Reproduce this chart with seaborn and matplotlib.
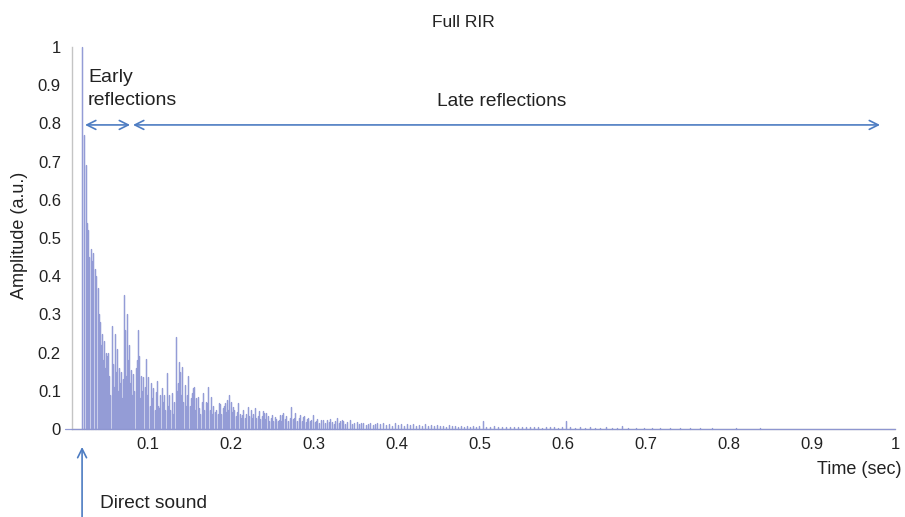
#%% MODULE BEGINS
module_name = 'full_rir_plot'
'''
Description:
Room impulse response (RIR) with direct sound, early and late reflections.
Spike times / amplitudes are read off the reference picture.
'''

#%% IMPORTS ~~~~~~~~~~~~~~~~~~~~~~~~~~~~~~~~~~~~~~~~~~~~
import numpy as np
import pandas as pd
import matplotlib
matplotlib.use('Agg')
import matplotlib.pyplot as plt
import seaborn as sns

#%% DATA ~~~~~~~~~~~~~~~~~~~~~~~~~~~~~~~~~~~~~~~~~~~~
# direct sound
direct_t = [0.0205]
direct_a = [1.00]

# early reflections (~0.02 - 0.08 s)
early_t = [0.0233, 0.0247, 0.0263, 0.0277, 0.0293, 0.0310, 0.0325, 0.0341,
           0.0361, 0.0377, 0.0392, 0.0404, 0.0416, 0.0428, 0.0440, 0.0452,
           0.0464, 0.0476, 0.0490, 0.0502, 0.0512, 0.0522, 0.0533, 0.0546,
           0.0563, 0.0575, 0.0587, 0.0602, 0.0614, 0.0627, 0.0639, 0.0651,
           0.0663, 0.0672, 0.0684, 0.0693, 0.0705, 0.0717, 0.0729, 0.0741,
           0.0751, 0.0763, 0.0771, 0.0783, 0.0793]
early_a = [0.77, 0.69, 0.54, 0.52, 0.45, 0.47, 0.44, 0.46,
           0.42, 0.40, 0.37, 0.30, 0.28, 0.22, 0.25, 0.18,
           0.23, 0.16, 0.20, 0.19, 0.20, 0.12, 0.14, 0.09,
           0.27, 0.17, 0.11, 0.25, 0.15, 0.21, 0.10, 0.16,
           0.12, 0.15, 0.08, 0.13, 0.35, 0.26, 0.14, 0.245,
           0.30, 0.18, 0.22, 0.12, 0.155]

# late reflections, decaying part (~0.08 - 0.38 s)
late_t = [0.0805, 0.0813, 0.0823, 0.0835, 0.0852, 0.0861, 0.0871, 0.0883,
          0.0894, 0.0907, 0.0919, 0.0931, 0.0943, 0.0958, 0.0967, 0.0980,
          0.0992, 0.1004, 0.1018, 0.1033, 0.1048, 0.1064, 0.1081, 0.1100,
          0.1108, 0.1120, 0.1133, 0.1148, 0.1165, 0.1177, 0.1187, 0.1201,
          0.1225, 0.1239, 0.1253, 0.1269, 0.1286, 0.1301, 0.1317, 0.1334,
          0.1347, 0.1359, 0.1373, 0.1386, 0.1398, 0.1413, 0.1425, 0.1440,
          0.1452, 0.1464, 0.1484, 0.1500, 0.1512, 0.1524, 0.1536, 0.1548,
          0.1563, 0.1582, 0.1596, 0.1614, 0.1630, 0.1647, 0.1663, 0.1678,
          0.1695, 0.1707, 0.1726, 0.1741, 0.1757, 0.1771, 0.1783, 0.1801,
          0.1819, 0.1837, 0.1849, 0.1861, 0.1879, 0.1898, 0.1910, 0.1922,
          0.1940, 0.1952, 0.1964, 0.1979, 0.1996, 0.2012, 0.2028, 0.2040,
          0.2054, 0.2069, 0.2084, 0.2102, 0.2120, 0.2132, 0.2148, 0.2163,
          0.2181, 0.2199, 0.2217, 0.2237, 0.2253, 0.2269, 0.2287, 0.2305,
          0.2319, 0.2335, 0.2353, 0.2367, 0.2379, 0.2392, 0.2410, 0.2425,
          0.2440, 0.2458, 0.2478, 0.2490, 0.2506, 0.2526, 0.2542, 0.2560,
          0.2578, 0.2590, 0.2606, 0.2618, 0.2630, 0.2651, 0.2666, 0.2687,
          0.2705, 0.2723, 0.2741, 0.2759, 0.2771, 0.2789, 0.2816, 0.2831,
          0.2849, 0.2867, 0.2879, 0.2898, 0.2910, 0.2928, 0.2946, 0.2964,
          0.2988, 0.3006, 0.3024, 0.3040, 0.3060, 0.3088, 0.3112, 0.3132,
          0.3151, 0.3175, 0.3193, 0.3211, 0.3235, 0.3253, 0.3271, 0.3295,
          0.3313, 0.3331, 0.3353, 0.3373, 0.3398, 0.3434, 0.3458, 0.3482,
          0.3514, 0.3542, 0.3566, 0.3594, 0.3627, 0.3651, 0.3675, 0.3711,
          0.3735, 0.3755]
late_a = [0.09, 0.07, 0.145, 0.10, 0.16, 0.12, 0.18, 0.26,
          0.19, 0.08, 0.14, 0.10, 0.137, 0.07, 0.11, 0.183,
          0.09, 0.137, 0.06, 0.12, 0.08, 0.107, 0.05, 0.098,
          0.125, 0.06, 0.055, 0.09, 0.107, 0.07, 0.089, 0.05,
          0.146, 0.06, 0.089, 0.05, 0.094, 0.04, 0.07, 0.24,
          0.10, 0.12, 0.176, 0.15, 0.09, 0.163, 0.07, 0.115,
          0.06, 0.09, 0.14, 0.06, 0.08, 0.094, 0.107, 0.11,
          0.05, 0.08, 0.085, 0.055, 0.04, 0.07, 0.094, 0.05,
          0.071, 0.068, 0.11, 0.05, 0.083, 0.04, 0.06, 0.045,
          0.05, 0.04, 0.067, 0.065, 0.04, 0.055, 0.06, 0.068,
          0.045, 0.076, 0.05, 0.089, 0.07, 0.045, 0.058, 0.05,
          0.035, 0.045, 0.068, 0.04, 0.03, 0.037, 0.05, 0.03,
          0.04, 0.058, 0.035, 0.05, 0.03, 0.04, 0.056, 0.03,
          0.035, 0.047, 0.025, 0.035, 0.047, 0.043, 0.025, 0.041,
          0.034, 0.022, 0.028, 0.037, 0.02, 0.032, 0.025, 0.02,
          0.024, 0.037, 0.02, 0.037, 0.041, 0.025, 0.034, 0.02,
          0.03, 0.057, 0.025, 0.03, 0.041, 0.022, 0.028, 0.037,
          0.02, 0.032, 0.034, 0.018, 0.025, 0.028, 0.02, 0.024,
          0.037, 0.018, 0.022, 0.026, 0.015, 0.024, 0.024, 0.015,
          0.024, 0.018, 0.025, 0.019, 0.014, 0.02, 0.028, 0.015,
          0.02, 0.024, 0.022, 0.012, 0.018, 0.024, 0.012, 0.016,
          0.019, 0.012, 0.015, 0.017, 0.01, 0.014, 0.017, 0.01,
          0.013, 0.015]

# diffuse tail (~0.38 - 1 s)
tail_t = [0.3795, 0.3831, 0.3867, 0.3904, 0.3940, 0.3976, 0.4012, 0.4048,
          0.4084, 0.4120, 0.4157, 0.4193, 0.4229, 0.4265, 0.4301, 0.4337,
          0.4373, 0.4410, 0.4446, 0.4482, 0.4518, 0.4554, 0.4590, 0.4627,
          0.4663, 0.4699, 0.4735, 0.4771, 0.4807, 0.4843, 0.4880, 0.4916,
          0.4952, 0.4988, 0.5036, 0.5072, 0.5120, 0.5169, 0.5217, 0.5265,
          0.5313, 0.5361, 0.5410, 0.5458, 0.5506, 0.5554, 0.5602, 0.5651,
          0.5699, 0.5747, 0.5795, 0.5843, 0.5892, 0.5940, 0.5988, 0.6036,
          0.6084, 0.6145, 0.6205, 0.6265, 0.6325, 0.6386, 0.6446, 0.6518,
          0.6590, 0.6651, 0.6711, 0.6783, 0.6879, 0.6976, 0.7072, 0.7169,
          0.7289, 0.7410, 0.7530, 0.7651, 0.7795, 0.7940, 0.8084, 0.8229,
          0.8373, 0.8518, 0.8663, 0.8807, 0.8952, 0.9096, 0.9241, 0.9385,
          0.9530, 0.9675, 0.9819, 0.9964]
tail_a = [0.012, 0.016, 0.010, 0.014, 0.009, 0.015, 0.011, 0.013,
          0.008, 0.014, 0.010, 0.012, 0.008, 0.011, 0.009, 0.012,
          0.007, 0.010, 0.008, 0.011, 0.007, 0.009, 0.006, 0.010,
          0.007, 0.008, 0.006, 0.009, 0.005, 0.008, 0.006, 0.007,
          0.005, 0.007, 0.022, 0.006, 0.005, 0.007, 0.004, 0.006,
          0.005, 0.006, 0.004, 0.005, 0.006, 0.004, 0.005, 0.004,
          0.005, 0.003, 0.005, 0.004, 0.005, 0.003, 0.004, 0.022,
          0.004, 0.003, 0.004, 0.003, 0.004, 0.003, 0.003, 0.004,
          0.003, 0.002, 0.008, 0.002, 0.003, 0.002, 0.002, 0.003,
          0.002, 0.002, 0.002, 0.002, 0.002, 0.001, 0.002, 0.001,
          0.002, 0.001, 0.001, 0.001, 0.001, 0.001, 0.001, 0.001,
          0.001, 0.001, 0.001, 0.001]

x_ticks = [0.1, 0.2, 0.3, 0.4, 0.5, 0.6, 0.7, 0.8, 0.9, 1.0]
x_tick_labels = ['0.1', '0.2', '0.3', '0.4', '0.5', '0.6', '0.7', '0.8', '0.9', '1']
y_ticks = [0, 0.1, 0.2, 0.3, 0.4, 0.5, 0.6, 0.7, 0.8, 0.9, 1.0]
y_tick_labels = ['0', '0.1', '0.2', '0.3', '0.4', '0.5', '0.6', '0.7', '0.8', '0.9', '1']

#%% DECLARATIONS ~~~~~~~~~~~~~~~~~~~~~~~~~~~~~~~~~~~~~~~~~~~~
SIG_COLOR = '#8891d2'
ARROW_COLOR = '#4d7cc2'
AXIS_COLOR = '#c4c4c4'
TEXT_COLOR = '#222222'


def build_frame():
    '''
    Turn spike lists into a stem-like polyline (0 -> a -> 0 for each spike).
    '''
    t = np.array(direct_t + early_t + late_t + tail_t)
    a = np.array(direct_a + early_a + late_a + tail_a)
    order = np.argsort(t)
    t, a = t[order], a[order]
    xs = np.repeat(t, 3)
    ys = np.column_stack([np.zeros_like(a), a, np.zeros_like(a)]).ravel()
    xs = np.concatenate([[0.0], xs, [1.0]])
    ys = np.concatenate([[0.0], ys, [0.0]])
    return pd.DataFrame({'Time (sec)': xs, 'Amplitude': ys})


def main():
    sns.set_style('white')
    plt.rcParams['font.family'] = ['Liberation Sans', 'DejaVu Sans']

    fig = plt.figure(figsize=(9.05, 5.17), dpi=100)
    ax = fig.add_axes([0.0796, 0.1702, 0.9094, 0.7389])

    df = build_frame()
    sns.lineplot(data=df, x='Time (sec)', y='Amplitude', ax=ax, sort=False,
                 estimator=None, color=SIG_COLOR, linewidth=0.9, alpha=0.9,
                 zorder=3, clip_on=False)

    ax.set_xlim(0.0084, 1.0)
    ax.set_ylim(0, 1.0)
    ax.set_xticks(x_ticks)
    ax.set_xticklabels(x_tick_labels)
    ax.set_yticks(y_ticks)
    ax.set_yticklabels(y_tick_labels)
    ax.set_xlabel('')
    ax.set_ylabel('')

    for side in ['top', 'right']:
        ax.spines[side].set_visible(False)
    for side in ['left', 'bottom']:
        ax.spines[side].set_color(AXIS_COLOR)
        ax.spines[side].set_linewidth(1.0)
    ax.tick_params(axis='both', direction='in', length=6, width=0.9,
                   color=AXIS_COLOR, labelsize=12, labelcolor=TEXT_COLOR)
    ax.tick_params(axis='y', pad=8)
    ax.tick_params(axis='x', pad=6)

    # labels
    fig.text(0.512, 0.957, 'Full RIR', ha='center', va='center',
             fontsize=12.5, color=TEXT_COLOR)
    fig.text(0.022, 0.545, 'Amplitude (a.u.)', ha='center', va='center',
             rotation=90, fontsize=13, color=TEXT_COLOR)
    fig.text(0.949, 0.091, 'Time (sec)', ha='center', va='center',
             fontsize=13, color=TEXT_COLOR)

    # annotations
    fig.text(88 / 905, 1 - 82 / 517, 'Early', ha='left', va='baseline',
             fontsize=14, color=TEXT_COLOR)
    fig.text(88 / 905, 1 - 105 / 517, 'reflections', ha='left', va='baseline',
             fontsize=14, color=TEXT_COLOR)
    fig.text(502 / 905, 1 - 102 / 517, 'Late reflections', ha='center',
             va='center', fontsize=13.8, color=TEXT_COLOR)
    fig.text(100 / 905, 1 - 504 / 517, 'Direct sound', ha='left',
             va='center', fontsize=13.8, color=TEXT_COLOR)

    arrow = dict(arrowstyle='<->', color=ARROW_COLOR, lw=1.2,
                 mutation_scale=16, shrinkA=0, shrinkB=0)
    ax.annotate('', xy=(0.0241, 0.796), xytext=(0.0783, 0.796),
                arrowprops=arrow, annotation_clip=False)
    ax.annotate('', xy=(0.0819, 0.796), xytext=(0.9819, 0.796),
                arrowprops=arrow, annotation_clip=False)
    ax.annotate('', xy=(0.0205, -0.047), xytext=(0.0205, -0.235),
                arrowprops=dict(arrowstyle='->', color=ARROW_COLOR, lw=1.2,
                                mutation_scale=16, shrinkA=0, shrinkB=0),
                annotation_clip=False)

    fig.savefig('out.png', dpi=100)


#%% SELF-RUN ~~~~~~~~~~~~~~~~~~~~~~~~~~~~~~~~~~~~~~~~~~~~
if __name__ == "__main__":
    main()
